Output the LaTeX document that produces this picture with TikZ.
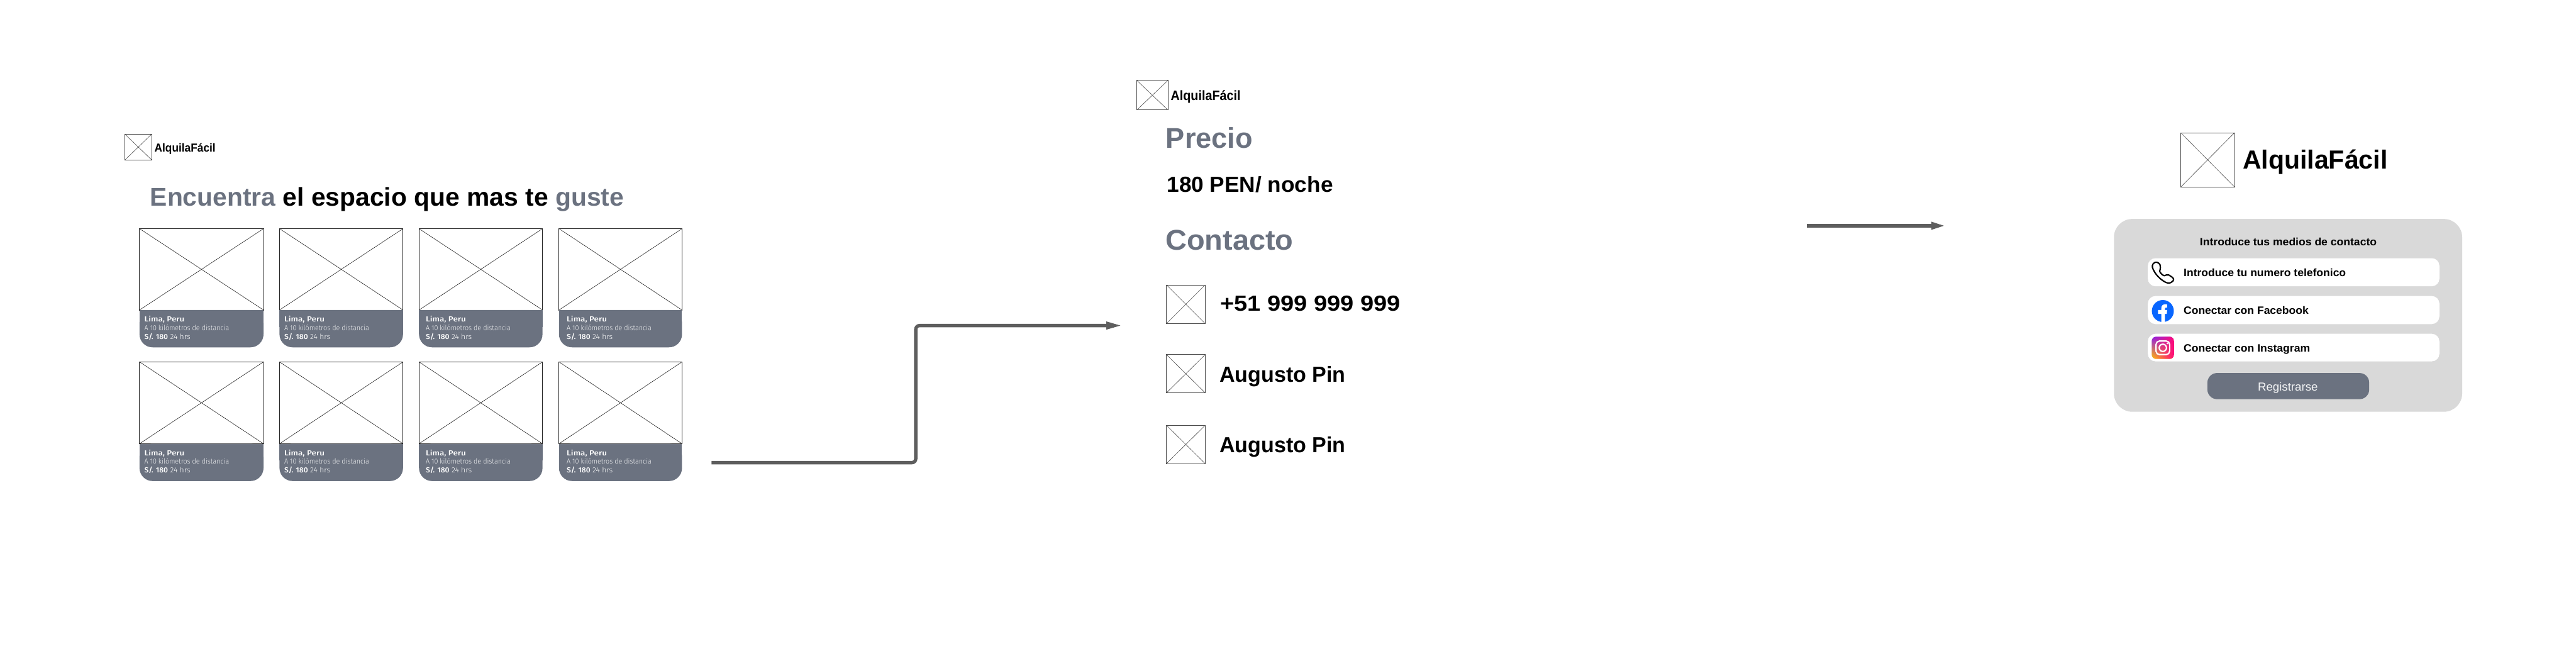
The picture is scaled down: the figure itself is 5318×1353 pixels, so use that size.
\documentclass[tikz,border=0pt]{standalone}
\usepackage{fontspec}
\usepackage{graphicx}
\usetikzlibrary{fadings}
\setmainfont{Liberation Sans}
\newfontfamily\cardfont{Fira Sans}[BoldFont={Fira Sans Medium}]
\newfontfamily\cardlight{Fira Sans Light}
\definecolor{slate}{HTML}{6B7280}
\definecolor{arrowgray}{HTML}{5E5E5E}
\definecolor{panelgray}{HTML}{D9D9D9}
\definecolor{fbblue}{HTML}{0866FF}
\definecolor{igtop}{HTML}{8A1FE8}
\definecolor{igmid}{HTML}{FF0A7A}
\definecolor{igbot}{HTML}{FFC107}
\newsavebox{\fitbox}
% text stretched horizontally to an exact width in px
\newcommand{\fitw}[2]{\sbox{\fitbox}{#2}\pgfmathsetmacro{\fitr}{#1/(\wd\fitbox/1pt)}\scalebox{\fitr}[1]{\usebox{\fitbox}}}
\newcommand{\fsz}[1]{\fontsize{#1}{#1}\selectfont}
% wireframe image placeholder
\newcommand{\phbox}[6]{%
 \node[phnode,draw=#6,minimum width={(#4-#2)*1pt},minimum height={(#5-#3)*1pt}] (#1) at ({(#2+#4)/2},{(#3+#5)/2}) {};
 \draw[draw=#6,line width=0.8pt] (#1.north west) -- (#1.south east) (#1.north east) -- (#1.south west);}
\tikzset{
 phnode/.style={rectangle,inner sep=0pt,outer sep=0pt,line width=1pt},
 txt/.style={anchor=base west,inner sep=0pt,outer sep=0pt},
 txtc/.style={anchor=base,inner sep=0pt,outer sep=0pt},
 flow/.style={draw=arrowgray,line width=7pt,rounded corners=8pt},
 headtip/.style={fill=arrowgray},
 rowbox/.style={fill=white,rounded corners=16pt}
}
\begin{document}
\begin{tikzpicture}[x=1pt,y=-1pt]
\useasboundingbox (0,0) rectangle (5318,1353);
% left screen
\phbox{logoA}{258}{277}{313}{330}{black!70}
\node[txt] (brandA) at (319,313) {\fsz{24}\bfseries\fitw{126}{AlquilaFácil}};
\node[txt] (head) at (310,425) {\fsz{53}\bfseries\fitw{978}{\textcolor{slate}{Encuentra} el espacio que mas te \textcolor{slate}{guste}}};
\foreach \n/\a/\b/\t/\s/\tx in {
 a/288/544/472/640/298, b/577/832/472/640/587, c/865/1120/472/640/879, d/1154/1408/472/640/1170,
 e/288/544/747/916/298, f/577/832/747/916/587, g/865/1120/747/916/879, h/1154/1408/747/916/1170}{
 \phbox{img\n}{\a}{\t}{\b}{\s}{black!85}
 \fill[slate,rounded corners=27pt] (\a,\s) rectangle (\b,\s+77);
 \fill[slate] (\a,\s) rectangle (\b,\s+35);
 \node[txt,text=white] (city\n) at (\tx,\s+24) {\fsz{15}\cardfont\bfseries\fitw{83}{Lima, Peru}};
 \node[txt,text=white!92!slate] (dist\n) at (\tx,\s+42) {\fsz{15}\cardlight\fitw{175}{A 10 kilómetros de distancia}};
 \node[txt,text=white] (price\n) at (\tx,\s+60) {\fsz{15}\fitw{95}{{\cardfont\bfseries S/. 180} {\cardlight 24 hrs}}};
}
% middle screen
\phbox{logoB}{2347}{166}{2411}{227}{black!70}
\node[txt] (brandB) at (2417,207) {\fsz{28}\bfseries\fitw{144}{AlquilaFácil}};
\node[txt,text=slate] (precio) at (2407,306) {\fsz{59}\bfseries\fitw{179}{Precio}};
\node[txt] (pen) at (2409,397) {\fsz{45}\bfseries\fitw{343}{180 PEN/ noche}};
\node[txt,text=slate] (contacto) at (2406,516) {\fsz{59}\bfseries\fitw{264}{Contacto}};
\phbox{icoA}{2408}{588}{2488}{668}{black!70}
\phbox{icoB}{2408}{732}{2488}{811}{black!70}
\phbox{icoC}{2408}{878}{2488}{957}{black!70}
\node[txt] (phone) at (2519,642) {\fsz{45}\bfseries\fitw{372}{+51 999 999 999}};
\node[txt] (nameA) at (2518,789) {\fsz{45}\bfseries\fitw{260}{Augusto Pin}};
\node[txt] (nameB) at (2518,934) {\fsz{45}\bfseries\fitw{260}{Augusto Pin}};
% right screen
\phbox{logoC}{4502}{274}{4613}{386}{black!70}
\node[txt] (brandC) at (4630,349) {\fsz{54}\bfseries\fitw{299}{AlquilaFácil}};
\fill[panelgray,rounded corners=38pt] (4364,452) rectangle (5083,850);
\node[txtc] (ptitle) at (4724,507) {\fsz{22}\bfseries\fitw{365}{Introduce tus medios de contacto}};
\fill[rowbox] (4434,533) rectangle (5036,591);
\fill[rowbox] (4434,611) rectangle (5036,669);
\fill[rowbox] (4434,689) rectangle (5036,746);
\node[txt] (rowA) at (4508,570) {\fsz{22}\bfseries\fitw{335}{Introduce tu numero telefonico}};
\node[txt] (rowB) at (4508,648) {\fsz{22}\bfseries\fitw{258}{Conectar con Facebook}};
\node[txt] (rowC) at (4508,726) {\fsz{22}\bfseries\fitw{261}{Conectar con Instagram}};
\fill[slate,rounded corners=20pt] (4557,770) rectangle (4891,824);
\node[txtc,text=white!92!slate] (reg) at (4723,807) {\fsz{24}\fitw{124}{Registrarse}};
% icons
\draw[line width=2.8pt,line join=round] (4448,542) .. controls (4452,540) and (4456,542) .. (4459,546) -- (4460,552) .. controls (4461,555) and (4458,557) .. (4458.5,560) .. controls (4459,563) and (4465,569) .. (4468,569) .. controls (4471,569) and (4473,566) .. (4477,567.5) -- (4484,572) .. controls (4488,575) and (4488,578) .. (4486,580) -- (4482,583) .. controls (4478,586) and (4472,584) .. (4466,580) .. controls (4456,573) and (4449,565) .. (4445,556) .. controls (4442,550) and (4443,545) .. (4448,542) -- cycle;
\fill[fbblue] (4465,642) circle [radius=22.7];
\begin{scope}[shift={(4465,642)}]
\fill[white] (-3.3,22.5) -- (-3.3,6) -- (-10,6) -- (-10,-2) -- (-3.3,-2) -- (-3.3,-5) .. controls (-3.3,-11) and (0.5,-14) .. (5,-14) -- (9,-13.5) -- (9,-7) -- (6.5,-7) .. controls (4.5,-7) and (4.3,-6) .. (4.3,-4) -- (4.3,-2) -- (9,-2) -- (8,6) -- (4.3,6) -- (4.3,22.5) -- cycle;
\end{scope}
\shade[rounded corners=9pt,top color=igtop,middle color=igmid,bottom color=igbot] (4442,695) rectangle (4488,741);
\fill[igmid,rounded corners=9pt,path fading=west] (4442,695) rectangle (4488,741);
\draw[white,line width=2.8pt,rounded corners=7pt] (4451,704) rectangle (4479,732);
\draw[white,line width=2.8pt] (4465,718) circle [radius=7.5];
\fill[white] (4474.3,708.7) circle [radius=2];
% connectors
\coordinate (flowAstart) at (1469,955);
\coordinate (flowAend) at (2284,672);
\coordinate (flowAtip) at (2313,672);
\draw[flow] (flowAstart) -- (1890.5,955) -- (1890.5,672) -- (flowAend);
\fill[headtip] (flowAtip) -- (2284,663.5) -- (2284,680.5) -- cycle;
\coordinate (flowBstart) at (3730,466);
\coordinate (flowBend) at (3987,466);
\coordinate (flowBtip) at (4013,466);
\draw[flow] (flowBstart) -- (flowBend);
\fill[headtip] (flowBtip) -- (3987,457.5) -- (3987,474.5) -- cycle;
\end{tikzpicture}
\end{document}
